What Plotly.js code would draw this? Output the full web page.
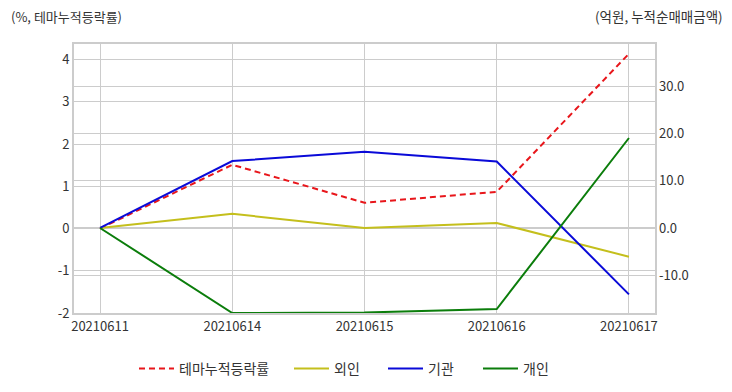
<!DOCTYPE html>
<html>
<head>
<meta charset="utf-8">
<script src="https://cdn.plot.ly/plotly-3.0.1.min.js"></script>
<style>html,body{margin:0;padding:0;background:#fff;}#chart{width:732px;height:392px;}</style>
</head>
<body>
<div id="chart"></div>
<script>
const dates = ['20210611','20210614','20210615','20210616','20210617'];
const themeRate = [0, 1.51, 0.61, 0.87, 4.14];
const foreignNet = [0, 3.0, 0.0, 1.05, -6.1];
const instNet = [0, 14.2, 16.2, 14.1, -14.1];
const indivNet = [0, -18.05, -17.95, -17.2, 19.1];
const names = ['테마누적등락률','외인','기관','개인'];

const FONT = 'Noto Sans CJK KR, sans-serif';
const traces = [
  {x: dates, y: themeRate, name: names[0], type: 'scatter', mode: 'lines', yaxis: 'y', legend: 'legend',
   line: {color: '#e8161b', width: 2, dash: '6px,4px'}},
  {x: dates, y: foreignNet, name: names[1], type: 'scatter', mode: 'lines', yaxis: 'y2', legend: 'legend2',
   line: {color: '#c4bf1c', width: 2}},
  {x: dates, y: instNet, name: names[2], type: 'scatter', mode: 'lines', yaxis: 'y2', legend: 'legend3',
   line: {color: '#0a0ad8', width: 2}},
  {x: dates, y: indivNet, name: names[3], type: 'scatter', mode: 'lines', yaxis: 'y2', legend: 'legend4',
   line: {color: '#0b7d0b', width: 2}}
];
function leg(px) {
  return {orientation: 'h', xref: 'container', yref: 'container', x: (px - 5) / 732, xanchor: 'left',
          y: (392-369)/392, yanchor: 'middle', borderwidth: 0, bgcolor: 'rgba(0,0,0,0)',
          font: {family: FONT, size: 14, color: '#333'}, itemwidth: 35};
}
const layout = {
  width: 732, height: 392,
  margin: {l: 74, r: 77, t: 44, b: 79},
  paper_bgcolor: '#fff', plot_bgcolor: '#fff',
  font: {family: FONT, size: 12, color: '#333'},
  showlegend: true,
  legend: leg(139), legend2: leg(294), legend3: leg(388), legend4: leg(483),
  xaxis: {type: 'category', range: [-0.197, 4.197], showgrid: true, gridcolor: '#cccccc', gridwidth: 1,
          showline: true, mirror: true, linecolor: '#cccccc', linewidth: 2, ticks: '',
          tickfont: {family: FONT, size: 13, color: '#333'}, fixedrange: true},
  yaxis: {range: [-2, 4.37], tickvals: [-2,-1,0,1,2,3,4], ticktext: ['-2','-1','0','1','2','3','4'],
          showgrid: true, gridcolor: '#cccccc', gridwidth: 1, zeroline: false,
          showline: true, mirror: true, linecolor: '#cccccc', linewidth: 2, ticks: '',
          tickfont: {family: FONT, size: 13, color: '#333'}},
  yaxis2: {overlaying: 'y', side: 'right', range: [-18.05, 39.05],
           tickvals: [-10, 0, 10, 20, 30], ticktext: ['-10.0','0.0','10.0','20.0','30.0'],
           showgrid: true, gridcolor: '#cccccc', gridwidth: 1, zeroline: false, ticks: '',
           ticklabelstandoff: 3,
           tickfont: {family: FONT, size: 13, color: '#333'}},
  annotations: [
    {text: '(%, 테마누적등락률)', xref: 'paper', yref: 'paper', x: -65/581, y: (44-16)/269 + 1,
     xanchor: 'left', yanchor: 'middle', showarrow: false, font: {family: FONT, size: 13, color: '#333'}},
    {text: '(억원, 누적순매매금액)', xref: 'paper', yref: 'paper', x: 1 + 70/581, y: (44-16)/269 + 1,
     xanchor: 'right', yanchor: 'middle', showarrow: false, font: {family: FONT, size: 13.5, color: '#333'}}
  ]
};
Plotly.newPlot('chart', traces, layout, {displayModeBar: false, staticPlot: true});
</script>
</body>
</html>
